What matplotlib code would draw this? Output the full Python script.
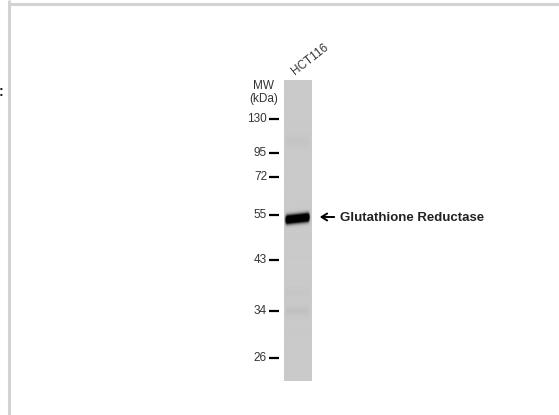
import numpy as np
import matplotlib
matplotlib.use("Agg")
import matplotlib.pyplot as plt

plt.rcParams["font.family"] = ["Liberation Sans", "DejaVu Sans"]

# Data
sample_name = "HCT116"
target_name = "Glutathione Reductase"
mw_labels = ["130", "95", "72", "55", "43", "34", "26"]
mw_pos = [119, 153, 177, 215, 260, 311, 358]  # migration (px from top)

# bands seen in the lane: migration, strength, spread, tilt across lane
band_pos = [142, 219, 293, 311]
band_strength = [0.012, 1.0, 0.008, 0.02]
band_spread = [4.0, 2.8, 3.0, 3.0]
band_tilt = [0.0, -3.0, 0.0, 0.0]

lane_top, lane_bottom = 81, 381
lane_left, lane_right = 284, 312

# Build lane image
ss = 4
ys = np.linspace(lane_top, lane_bottom, (lane_bottom - lane_top) * ss)
xs = np.linspace(lane_left, lane_right, (lane_right - lane_left) * ss)
X, Y = np.meshgrid(xs, ys)
frac = (X - lane_left) / (lane_right - lane_left)
horiz = np.clip((X - lane_left - 0.5) / 2.5, 0, 1) * np.clip((lane_right - 1.5 - X) / 2.5, 0, 1)

dark = np.zeros_like(X)
for pos, s, w, t in zip(band_pos, band_strength, band_spread, band_tilt):
    centre = pos - t / 2 + t * frac
    dark += s * np.exp(-0.5 * ((Y - centre) / w) ** 2)
dark = np.clip(dark * 2.2 * horiz, 0, 1)
lane = 0.79 * (1 - dark)

fig = plt.figure(figsize=(5.59, 4.15), dpi=100)
ax = fig.add_axes([0, 0, 1, 1])
ax.set_xlim(0, 559)
ax.set_ylim(415, 0)
ax.axis("off")

# frame lines of the page
ax.plot([8, 559], [4, 4], color="#d3d3d3", lw=2.2, solid_capstyle="butt")
ax.plot([8.5, 8.5], [0, 415], color="#d3d3d3", lw=2.2, solid_capstyle="butt")
ax.text(-1.5, 92, ":", fontsize=10, fontweight="bold", ha="left", va="center", color="#222222")

ax.imshow(lane, cmap="gray", vmin=0, vmax=1, extent=(lane_left, lane_right, lane_bottom, lane_top),
          interpolation="bilinear", aspect="auto")

# marker ladder
ax.text(263, 86, "MW", fontsize=8.5, ha="center", va="center", color="#333333")
ax.text(264, 99, "(kDa)", fontsize=8.5, ha="center", va="center", color="#333333")
for lab, y in zip(mw_labels, mw_pos):
    ax.text(267, y, lab, fontsize=8.5, ha="right", va="center", color="#333333")
    ax.plot([269, 279], [y, y], color="black", lw=1.6, solid_capstyle="butt")

ax.text(295, 75, sample_name, fontsize=8.5, rotation=38, rotation_mode="anchor",
        ha="left", va="baseline", color="#333333")

# target label
ax.annotate("", xy=(317, 217), xytext=(337, 217),
            arrowprops=dict(arrowstyle="->,head_length=0.4,head_width=0.25", lw=1.4, color="black"))
ax.text(340, 217.5, target_name, fontsize=9.5, fontweight="bold", ha="left", va="center", color="#222222")

fig.savefig("out.png", dpi=100)
